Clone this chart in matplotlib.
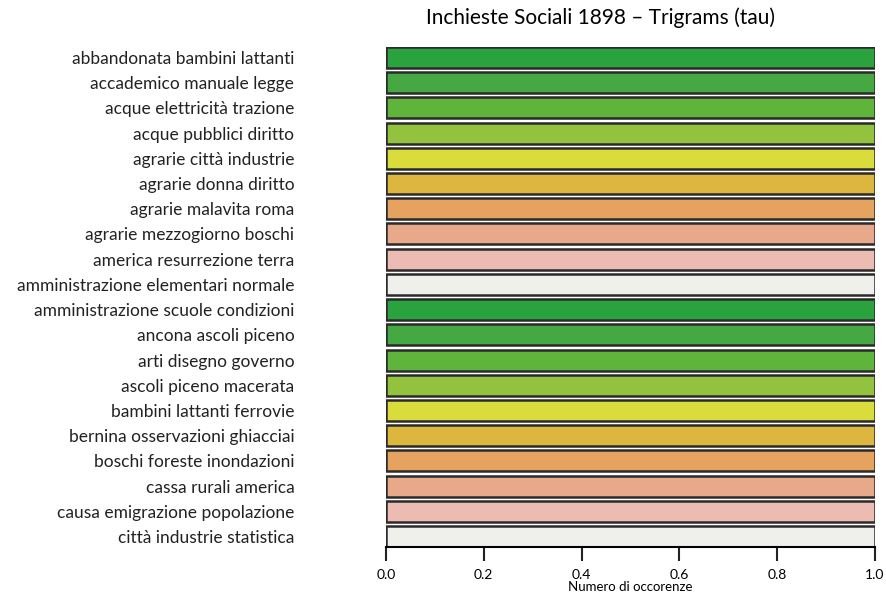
import matplotlib
matplotlib.use("Agg")
import matplotlib.pyplot as plt
import numpy as np

plt.rcParams['font.family'] = ['Lato', 'DejaVu Sans']

# trigram labels, top to bottom
trigrams = [
    "abbandonata bambini lattanti",
    "accademico manuale legge",
    "acque elettricità trazione",
    "acque pubblici diritto",
    "agrarie città industrie",
    "agrarie donna diritto",
    "agrarie malavita roma",
    "agrarie mezzogiorno boschi",
    "america resurrezione terra",
    "amministrazione elementari normale",
    "amministrazione scuole condizioni",
    "ancona ascoli piceno",
    "arti disegno governo",
    "ascoli piceno macerata",
    "bambini lattanti ferrovie",
    "bernina osservazioni ghiacciai",
    "boschi foreste inondazioni",
    "cassa rurali america",
    "causa emigrazione popolazione",
    "città industrie statistica",
]
occorrenze = [1.0] * 20

palette = ["#2aa33f", "#45a843", "#5fb43c", "#93c23e", "#d9dc3a",
           "#ddb640", "#e6a25f", "#e8a98a", "#ecbcb3", "#efefec"]
xticks = [0.0, 0.2, 0.4, 0.6, 0.8, 1.0]

fig = plt.figure(figsize=(8.86, 5.97), dpi=100)
ax = fig.add_axes([386/886, 1 - 547/597, (875 - 386)/886, (547 - 47)/597])

n = len(trigrams)
# R barplot style: width 1, space 0.2, first bar on top
ypos = 0.2 + 1.2 * np.arange(n)[::-1] + 0.5
colors = [palette[i % len(palette)] for i in range(n)]
ax.barh(ypos, occorrenze, height=1.0, color=colors, edgecolor="#2a2a2a", linewidth=1.8)

ax.set_xlim(0, 1)
ax.set_ylim(0.2, 0.2 + 1.2 * n - 0.2)
ax.set_yticks(ypos)
ax.set_yticklabels(trigrams, fontsize=12.5, color="#222222")
ax.tick_params(axis='y', length=0, pad=66)
ax.set_xticks(xticks)
ax.set_xticklabels([f"{t:.1f}" for t in xticks], fontsize=10)
ax.tick_params(axis='x', length=10, width=1.5, pad=6, color="#222222")

for s in ['top', 'right', 'left']:
    ax.spines[s].set_visible(False)
ax.spines['bottom'].set_linewidth(1.5)

ax.set_xlabel("Numero di occorenze", fontsize=9.5, labelpad=0)
fig.text(601/886, 1 - 18/597, "Inchieste Sociali 1898 – Trigrams (tau)",
         fontsize=15, ha="center", va="center")

fig.savefig("out.png", dpi=100)
